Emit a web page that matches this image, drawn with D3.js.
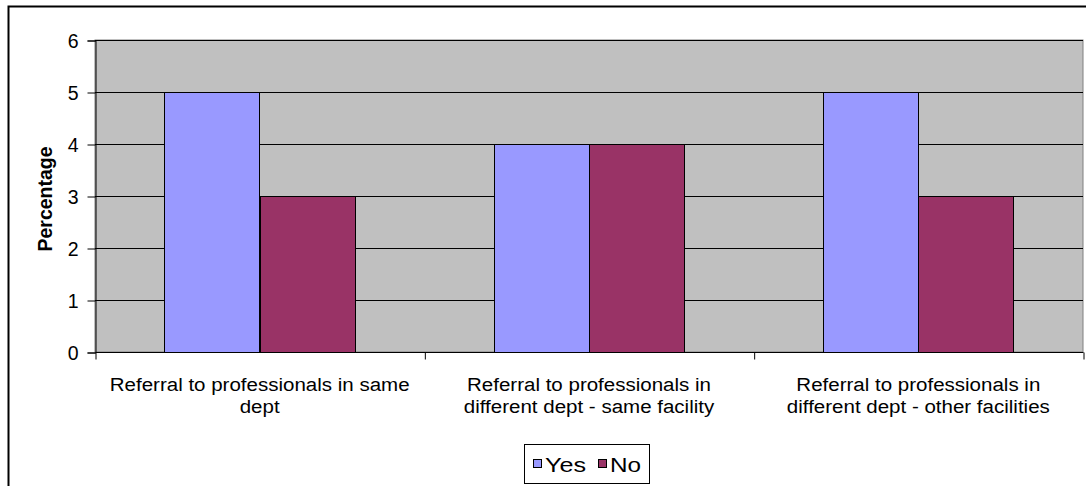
<!DOCTYPE html>
<html><head><meta charset="utf-8">
<script src="https://cdn.jsdelivr.net/npm/d3@7"></script>
<style>body{margin:0;background:#fff}svg{display:block}text{font-family:Arial,"Liberation Sans",sans-serif}</style>
</head><body><svg id="c" width="1086" height="486"></svg>
<script>
const categories = [
  ["Referral to professionals in same", "dept"],
  ["Referral to professionals in", "different dept - same facility"],
  ["Referral to professionals in", "different dept - other facilities"]
];
const seriesNames = ["Yes", "No"];
const yesValues = [5, 4, 5];
const noValues = [3, 4, 3];
const yTicks = [0, 1, 2, 3, 4, 5, 6];
const colors = ["#9999FF", "#993366"];

const svg = d3.select("#c");
const L = 95, R = 1083, T = 40, B = 352;

// outer border
svg.append("rect").attr("x", 8.5).attr("y", 6.5).attr("width", 1200).attr("height", 600)
  .attr("fill", "#fff").attr("stroke", "#000").attr("stroke-width", 2);

const x0 = d3.scaleBand().domain(d3.range(categories.length)).range([L, R]).paddingInner(0).paddingOuter(0);
const x1 = d3.scaleBand().domain(seriesNames).range([0, x0.bandwidth()]).paddingInner(0).paddingOuter(0.73);
const y = d3.scaleLinear().domain([0, 6]).range([B, T]);

svg.append("rect").attr("x", L).attr("y", T).attr("width", R - L).attr("height", B - T)
  .attr("fill", "#C0C0C0").attr("stroke", "#808080").attr("stroke-width", 1);

svg.append("g").selectAll("line").data(yTicks.filter(d => d > 0)).join("line")
  .attr("x1", L).attr("x2", R).attr("y1", d => Math.round(y(d)) + 0.5).attr("y2", d => Math.round(y(d)) + 0.5)
  .attr("stroke", "#000").attr("stroke-width", 1);

const data = categories.map((c, i) => ({i, vals: [yesValues[i], noValues[i]]}));
const g = svg.append("g");
data.forEach(d => {
  d.vals.forEach((v, k) => {
    const xx = x0(d.i) + x1(seriesNames[k]);
    g.append("rect").attr("x", Math.round(xx) + 0.5).attr("y", Math.round(y(v)) + 0.5)
      .attr("width", Math.round(x1.bandwidth())).attr("height", Math.round(y(0) - y(v)))
      .attr("fill", colors[k]).attr("stroke", "#000").attr("stroke-width", 1);
  });
});

// y axis
const yAxis = d3.axisLeft(y).tickValues(yTicks).tickSize(8).tickPadding(9).tickFormat(d3.format("d"));
const ya = svg.append("g").attr("transform", `translate(${L + 0.5},0.5)`).call(yAxis);
ya.attr("font-family", null).attr("font-size", null);
ya.select(".domain").attr("stroke", "#000");
ya.selectAll(".tick line").attr("stroke", "#000");
ya.selectAll("text").attr("font-size", 19.5).attr("fill", "#000").attr("dy", "0.36em");

// x axis
const xAxis = d3.axisBottom(d3.scaleLinear().domain([0, 3]).range([L, R])).tickValues([0, 1, 2, 3]).tickSize(7).tickFormat("");
const xa = svg.append("g").attr("transform", `translate(0.5,${B + 0.5})`).call(xAxis);
xa.select(".domain").attr("stroke", "#000").attr("d", `M${L},0H${R}`);
xa.selectAll(".tick line").attr("stroke", "#000");

// category labels
categories.forEach((c, i) => {
  const cx = x0(i) + x0.bandwidth() / 2;
  c.forEach((line, j) => {
    svg.append("text").attr("transform", `translate(${cx},${391 + j * 22}) scale(1.08,1)`)
      .attr("text-anchor", "middle")
      .attr("font-size", 19).attr("fill", "#000").text(line);
  });
});

// y label
svg.append("text").attr("transform", "translate(52,199) rotate(-90)").attr("text-anchor", "middle")
  .attr("font-size", 19.5).attr("font-weight", "bold").text("Percentage");

// legend
const lg = svg.append("g");
lg.append("rect").attr("x", 524.5).attr("y", 444.5).attr("width", 125).attr("height", 39)
  .attr("fill", "#fff").attr("stroke", "#000").attr("stroke-width", 1);
const items = [{n: "Yes", x: 533, w: 41}, {n: "No", x: 598, w: 31}];
items.forEach((it, k) => {
  lg.append("rect").attr("x", it.x + 0.5).attr("y", 459.5).attr("width", 8).attr("height", 8)
    .attr("fill", colors[k]).attr("stroke", "#000").attr("stroke-width", 1);
  lg.append("text").attr("x", it.x + 12).attr("y", 472).attr("font-size", 19.5).attr("fill", "#000")
    .attr("textLength", it.w).attr("lengthAdjust", "spacingAndGlyphs").text(it.n);
});
</script></body></html>
